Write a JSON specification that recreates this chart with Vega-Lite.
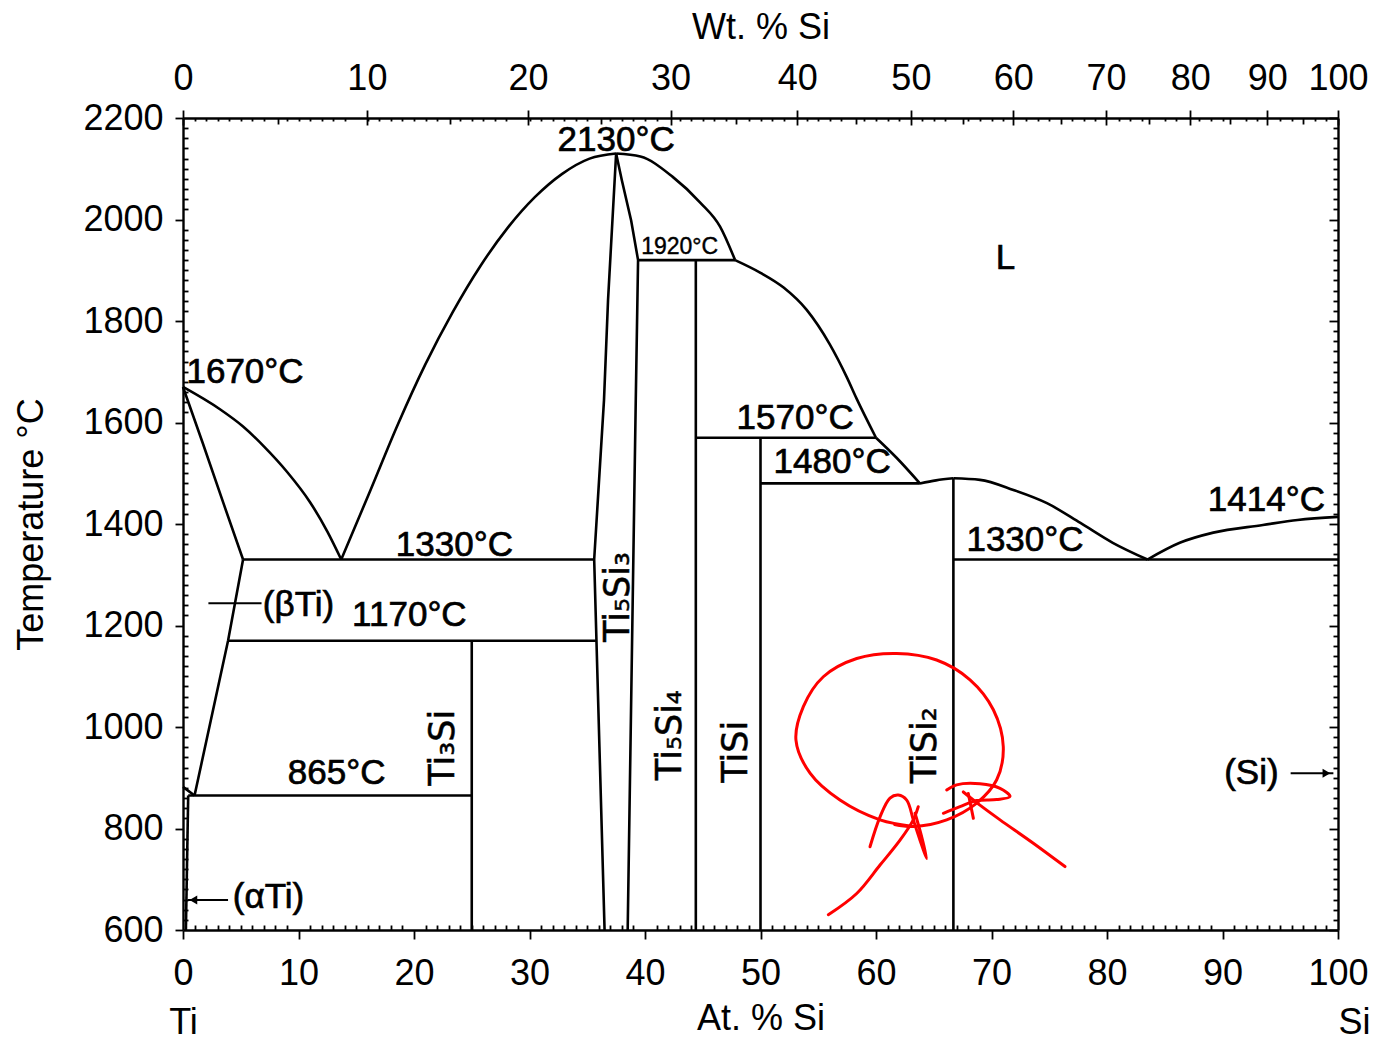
{
  "$schema": "https://vega.github.io/schema/vega-lite/v6.json",
  "description": "Ti-Si binary phase diagram: temperature against atomic percent silicon, with a weight-percent scale on top.",
  "width": 1155,
  "height": 812,
  "autosize": {"type": "none"},
  "padding": {"left": 183, "top": 118, "right": 43, "bottom": 111},
  "background": "white",
  "config": {
    "view": {"stroke": null},
    "font": "Liberation Sans",
    "axis": {
      "grid": false,
      "domainColor": "black",
      "domainWidth": 2.4,
      "tickColor": "black",
      "tickWidth": 1.8,
      "labelColor": "black",
      "titleColor": "black",
      "labelFont": "Liberation Sans",
      "titleFont": "Liberation Sans",
      "labelFontSize": 36,
      "titleFontSize": 36,
      "titleFontWeight": "normal",
      "labelFlush": false,
      "labelOverlap": false,
      "offset": 0
    }
  },
  "datasets": {
    "anchor": [{"at_pct": 0, "temp_c": 600}],
    "boundaries": [
      {"curve": "solidus_bti", "pt": 0, "at_pct": 0, "temp_c": 1670},
      {"curve": "solidus_bti", "pt": 1, "at_pct": 1.7, "temp_c": 1560},
      {"curve": "solidus_bti", "pt": 2, "at_pct": 3.5, "temp_c": 1441},
      {"curve": "solidus_bti", "pt": 3, "at_pct": 5.2, "temp_c": 1330},
      {"curve": "solvus_bti", "pt": 0, "at_pct": 5.2, "temp_c": 1330},
      {"curve": "solvus_bti", "pt": 1, "at_pct": 3.9, "temp_c": 1170},
      {"curve": "solvus_bti", "pt": 2, "at_pct": 1.0, "temp_c": 865},
      {"curve": "transus", "pt": 0, "at_pct": 0, "temp_c": 882},
      {"curve": "transus", "pt": 1, "at_pct": 1.0, "temp_c": 865},
      {"curve": "solvus_ati", "pt": 0, "at_pct": 0.45, "temp_c": 865},
      {"curve": "solvus_ati", "pt": 1, "at_pct": 0.25, "temp_c": 600},
      {"curve": "iso_1330_left", "pt": 0, "at_pct": 5.2, "temp_c": 1330},
      {"curve": "iso_1330_left", "pt": 1, "at_pct": 35.6, "temp_c": 1330},
      {"curve": "iso_1170", "pt": 0, "at_pct": 3.9, "temp_c": 1170},
      {"curve": "iso_1170", "pt": 1, "at_pct": 35.8, "temp_c": 1170},
      {"curve": "iso_865", "pt": 0, "at_pct": 0.45, "temp_c": 865},
      {"curve": "iso_865", "pt": 1, "at_pct": 25, "temp_c": 865},
      {"curve": "ti3si", "pt": 0, "at_pct": 25, "temp_c": 1170},
      {"curve": "ti3si", "pt": 1, "at_pct": 25, "temp_c": 600},
      {"curve": "ti5si3_left", "pt": 0, "at_pct": 37.5, "temp_c": 2130},
      {"curve": "ti5si3_left", "pt": 1, "at_pct": 36.8, "temp_c": 1841},
      {"curve": "ti5si3_left", "pt": 2, "at_pct": 36.45, "temp_c": 1644},
      {"curve": "ti5si3_left", "pt": 3, "at_pct": 35.6, "temp_c": 1330},
      {"curve": "ti5si3_left", "pt": 4, "at_pct": 36.5, "temp_c": 600},
      {"curve": "ti5si3_right", "pt": 0, "at_pct": 37.5, "temp_c": 2130},
      {"curve": "ti5si3_right", "pt": 1, "at_pct": 38.0, "temp_c": 2077},
      {"curve": "ti5si3_right", "pt": 2, "at_pct": 38.8, "temp_c": 1998},
      {"curve": "ti5si3_right", "pt": 3, "at_pct": 39.4, "temp_c": 1920},
      {"curve": "ti5si3_right", "pt": 4, "at_pct": 39.2, "temp_c": 1644},
      {"curve": "ti5si3_right", "pt": 5, "at_pct": 38.5, "temp_c": 600},
      {"curve": "iso_1920", "pt": 0, "at_pct": 39.4, "temp_c": 1920},
      {"curve": "iso_1920", "pt": 1, "at_pct": 47.8, "temp_c": 1920},
      {"curve": "ti5si4", "pt": 0, "at_pct": 44.4, "temp_c": 1920},
      {"curve": "ti5si4", "pt": 1, "at_pct": 44.4, "temp_c": 600},
      {"curve": "iso_1570", "pt": 0, "at_pct": 44.4, "temp_c": 1570},
      {"curve": "iso_1570", "pt": 1, "at_pct": 60.0, "temp_c": 1570},
      {"curve": "tisi", "pt": 0, "at_pct": 50.0, "temp_c": 1570},
      {"curve": "tisi", "pt": 1, "at_pct": 50.0, "temp_c": 600},
      {"curve": "iso_1480", "pt": 0, "at_pct": 50.0, "temp_c": 1480},
      {"curve": "iso_1480", "pt": 1, "at_pct": 63.8, "temp_c": 1480},
      {"curve": "tisi2", "pt": 0, "at_pct": 66.7, "temp_c": 1490},
      {"curve": "tisi2", "pt": 1, "at_pct": 66.7, "temp_c": 600},
      {"curve": "iso_1330_right", "pt": 0, "at_pct": 66.7, "temp_c": 1330},
      {"curve": "iso_1330_right", "pt": 1, "at_pct": 100, "temp_c": 1330}
    ],
    "liquidus": [
      {"curve": "liq_ti", "pt": 0, "at_pct": 0, "temp_c": 1670},
      {"curve": "liq_ti", "pt": 1, "at_pct": 3.2, "temp_c": 1626},
      {"curve": "liq_ti", "pt": 2, "at_pct": 5.2, "temp_c": 1592},
      {"curve": "liq_ti", "pt": 3, "at_pct": 7.0, "temp_c": 1553},
      {"curve": "liq_ti", "pt": 4, "at_pct": 9.0, "temp_c": 1503},
      {"curve": "liq_ti", "pt": 5, "at_pct": 11.0, "temp_c": 1443},
      {"curve": "liq_ti", "pt": 6, "at_pct": 12.5, "temp_c": 1385},
      {"curve": "liq_ti", "pt": 7, "at_pct": 13.7, "temp_c": 1330},
      {"curve": "liq_mid", "pt": 0, "at_pct": 13.7, "temp_c": 1330},
      {"curve": "liq_mid", "pt": 1, "at_pct": 16.22, "temp_c": 1466},
      {"curve": "liq_mid", "pt": 2, "at_pct": 18.6, "temp_c": 1596},
      {"curve": "liq_mid", "pt": 3, "at_pct": 20.97, "temp_c": 1714},
      {"curve": "liq_mid", "pt": 4, "at_pct": 23.34, "temp_c": 1817},
      {"curve": "liq_mid", "pt": 5, "at_pct": 25.71, "temp_c": 1907},
      {"curve": "liq_mid", "pt": 6, "at_pct": 28.09, "temp_c": 1983},
      {"curve": "liq_mid", "pt": 7, "at_pct": 30.46, "temp_c": 2044},
      {"curve": "liq_mid", "pt": 8, "at_pct": 32.83, "temp_c": 2090},
      {"curve": "liq_mid", "pt": 9, "at_pct": 35.2, "temp_c": 2120},
      {"curve": "liq_mid", "pt": 10, "at_pct": 37.5, "temp_c": 2130},
      {"curve": "liq_r1", "pt": 0, "at_pct": 37.5, "temp_c": 2130},
      {"curve": "liq_r1", "pt": 1, "at_pct": 39.6, "temp_c": 2124},
      {"curve": "liq_r1", "pt": 2, "at_pct": 42.4, "temp_c": 2084},
      {"curve": "liq_r1", "pt": 3, "at_pct": 44.8, "temp_c": 2033},
      {"curve": "liq_r1", "pt": 4, "at_pct": 46.5, "temp_c": 1986},
      {"curve": "liq_r1", "pt": 5, "at_pct": 47.8, "temp_c": 1920},
      {"curve": "liq_r2", "pt": 0, "at_pct": 47.8, "temp_c": 1920},
      {"curve": "liq_r2", "pt": 1, "at_pct": 50.0, "temp_c": 1895},
      {"curve": "liq_r2", "pt": 2, "at_pct": 52.0, "temp_c": 1866},
      {"curve": "liq_r2", "pt": 3, "at_pct": 54.0, "temp_c": 1822},
      {"curve": "liq_r2", "pt": 4, "at_pct": 56.0, "temp_c": 1754},
      {"curve": "liq_r2", "pt": 5, "at_pct": 57.5, "temp_c": 1688},
      {"curve": "liq_r2", "pt": 6, "at_pct": 58.3, "temp_c": 1648},
      {"curve": "liq_r2", "pt": 7, "at_pct": 60.0, "temp_c": 1570},
      {"curve": "liq_r3", "pt": 0, "at_pct": 60.0, "temp_c": 1570},
      {"curve": "liq_r3", "pt": 1, "at_pct": 61.8, "temp_c": 1530},
      {"curve": "liq_r3", "pt": 2, "at_pct": 63.8, "temp_c": 1480},
      {"curve": "liq_r4", "pt": 0, "at_pct": 63.8, "temp_c": 1480},
      {"curve": "liq_r4", "pt": 1, "at_pct": 65.2, "temp_c": 1486},
      {"curve": "liq_r4", "pt": 2, "at_pct": 66.7, "temp_c": 1490},
      {"curve": "liq_r5", "pt": 0, "at_pct": 66.7, "temp_c": 1490},
      {"curve": "liq_r5", "pt": 1, "at_pct": 69.0, "temp_c": 1487},
      {"curve": "liq_r5", "pt": 2, "at_pct": 71.9, "temp_c": 1467},
      {"curve": "liq_r5", "pt": 3, "at_pct": 74.8, "temp_c": 1441},
      {"curve": "liq_r5", "pt": 4, "at_pct": 77.7, "temp_c": 1402},
      {"curve": "liq_r5", "pt": 5, "at_pct": 80.5, "temp_c": 1363},
      {"curve": "liq_r5", "pt": 6, "at_pct": 83.5, "temp_c": 1330},
      {"curve": "liq_si", "pt": 0, "at_pct": 83.5, "temp_c": 1330},
      {"curve": "liq_si", "pt": 1, "at_pct": 86.3, "temp_c": 1363},
      {"curve": "liq_si", "pt": 2, "at_pct": 89.2, "temp_c": 1383},
      {"curve": "liq_si", "pt": 3, "at_pct": 93.5, "temp_c": 1398},
      {"curve": "liq_si", "pt": 4, "at_pct": 96.5, "temp_c": 1408},
      {"curve": "liq_si", "pt": 5, "at_pct": 100, "temp_c": 1414}
    ],
    "pointers": [
      {"curve": "beta", "pt": 0, "at_pct": 2.2, "temp_c": 1244},
      {"curve": "beta", "pt": 1, "at_pct": 6.8, "temp_c": 1244},
      {"curve": "alpha", "pt": 0, "at_pct": 0.4, "temp_c": 659},
      {"curve": "alpha", "pt": 1, "at_pct": 3.9, "temp_c": 659},
      {"curve": "si", "pt": 0, "at_pct": 95.9, "temp_c": 909},
      {"curve": "si", "pt": 1, "at_pct": 99.6, "temp_c": 909}
    ],
    "pointer_tips": [
      {"direction": "left", "at_pct": 0.9, "temp_c": 659},
      {"direction": "right", "at_pct": 99.0, "temp_c": 909}
    ],
    "isotherm_labels": [
      {"label": "1670°C", "at_pct": 5.37, "temp_c": 1700},
      {"label": "2130°C", "at_pct": 37.5, "temp_c": 2157},
      {"label": "1570°C", "at_pct": 53.0, "temp_c": 1609},
      {"label": "1480°C", "at_pct": 56.2, "temp_c": 1523},
      {"label": "1414°C", "at_pct": 93.8, "temp_c": 1447},
      {"label": "1330°C", "at_pct": 72.9, "temp_c": 1368},
      {"label": "1330°C", "at_pct": 23.5, "temp_c": 1359},
      {"label": "1170°C", "at_pct": 19.6, "temp_c": 1221},
      {"label": "865°C", "at_pct": 13.3, "temp_c": 909}
    ],
    "small_labels": [
      {"label": "1920°C", "at_pct": 43.0, "temp_c": 1946}
    ],
    "phase_labels": [
      {"label": "L", "at_pct": 71.2, "temp_c": 1924},
      {"label": "(βTi)", "at_pct": 10.0, "temp_c": 1240},
      {"label": "(αTi)", "at_pct": 7.4, "temp_c": 666},
      {"label": "(Si)", "at_pct": 92.5, "temp_c": 909}
    ],
    "compound_labels": [
      {"label": "Ti₃Si", "at_pct": 22.5, "temp_c": 959},
      {"label": "Ti₅Si₃", "at_pct": 37.7, "temp_c": 1256},
      {"label": "Ti₅Si₄", "at_pct": 42.2, "temp_c": 984},
      {"label": "TiSi", "at_pct": 47.9, "temp_c": 951},
      {"label": "TiSi₂", "at_pct": 64.2, "temp_c": 964}
    ],
    "markup": [
      {"stroke": "ring", "pt": 0, "at_pct": 63.23, "temp_c": 804},
      {"stroke": "ring", "pt": 1, "at_pct": 60.35, "temp_c": 817},
      {"stroke": "ring", "pt": 2, "at_pct": 56.88, "temp_c": 856},
      {"stroke": "ring", "pt": 3, "at_pct": 54.29, "temp_c": 909},
      {"stroke": "ring", "pt": 4, "at_pct": 53.07, "temp_c": 974},
      {"stroke": "ring", "pt": 5, "at_pct": 53.71, "temp_c": 1040},
      {"stroke": "ring", "pt": 6, "at_pct": 55.44, "temp_c": 1099},
      {"stroke": "ring", "pt": 7, "at_pct": 58.33, "temp_c": 1135},
      {"stroke": "ring", "pt": 8, "at_pct": 61.79, "temp_c": 1145},
      {"stroke": "ring", "pt": 9, "at_pct": 65.25, "temp_c": 1132},
      {"stroke": "ring", "pt": 10, "at_pct": 68.14, "temp_c": 1093},
      {"stroke": "ring", "pt": 11, "at_pct": 70.16, "temp_c": 1034},
      {"stroke": "ring", "pt": 12, "at_pct": 71.02, "temp_c": 961},
      {"stroke": "ring", "pt": 13, "at_pct": 70.45, "temp_c": 896},
      {"stroke": "ring", "pt": 14, "at_pct": 68.72, "temp_c": 850},
      {"stroke": "ring", "pt": 15, "at_pct": 66.12, "temp_c": 817},
      {"stroke": "ring", "pt": 16, "at_pct": 63.23, "temp_c": 804},
      {"stroke": "ring", "pt": 17, "at_pct": 61.6, "temp_c": 808},
      {"stroke": "a1", "pt": 0, "at_pct": 55.87, "temp_c": 630},
      {"stroke": "a1", "pt": 1, "at_pct": 58.33, "temp_c": 672},
      {"stroke": "a1", "pt": 2, "at_pct": 60.35, "temp_c": 728},
      {"stroke": "a1", "pt": 3, "at_pct": 62.08, "temp_c": 777},
      {"stroke": "a1", "pt": 4, "at_pct": 63.23, "temp_c": 817},
      {"stroke": "a1", "pt": 5, "at_pct": 63.66, "temp_c": 843},
      {"stroke": "a2", "pt": 0, "at_pct": 59.48, "temp_c": 764},
      {"stroke": "a2", "pt": 1, "at_pct": 60.35, "temp_c": 823},
      {"stroke": "a2", "pt": 2, "at_pct": 61.21, "temp_c": 860},
      {"stroke": "a2", "pt": 3, "at_pct": 61.93, "temp_c": 866},
      {"stroke": "a2", "pt": 4, "at_pct": 62.66, "temp_c": 856},
      {"stroke": "a2", "pt": 5, "at_pct": 63.23, "temp_c": 817},
      {"stroke": "a2", "pt": 6, "at_pct": 63.81, "temp_c": 777},
      {"stroke": "a2", "pt": 7, "at_pct": 64.39, "temp_c": 741},
      {"stroke": "a2", "pt": 8, "at_pct": 63.95, "temp_c": 784},
      {"stroke": "a2", "pt": 9, "at_pct": 63.38, "temp_c": 830},
      {"stroke": "b1", "pt": 0, "at_pct": 76.36, "temp_c": 725},
      {"stroke": "b1", "pt": 1, "at_pct": 73.62, "temp_c": 771},
      {"stroke": "b1", "pt": 2, "at_pct": 70.74, "temp_c": 817},
      {"stroke": "b1", "pt": 3, "at_pct": 69.0, "temp_c": 846},
      {"stroke": "b1", "pt": 4, "at_pct": 67.56, "temp_c": 872},
      {"stroke": "b2", "pt": 0, "at_pct": 66.12, "temp_c": 876},
      {"stroke": "b2", "pt": 1, "at_pct": 66.98, "temp_c": 886},
      {"stroke": "b2", "pt": 2, "at_pct": 69.0, "temp_c": 888},
      {"stroke": "b2", "pt": 3, "at_pct": 70.74, "temp_c": 879},
      {"stroke": "b2", "pt": 4, "at_pct": 71.6, "temp_c": 863},
      {"stroke": "b2", "pt": 5, "at_pct": 70.45, "temp_c": 857},
      {"stroke": "b2", "pt": 6, "at_pct": 68.72, "temp_c": 855},
      {"stroke": "b2", "pt": 7, "at_pct": 67.27, "temp_c": 843},
      {"stroke": "b2", "pt": 8, "at_pct": 65.83, "temp_c": 830},
      {"stroke": "hatch", "pt": 0, "at_pct": 68.43, "temp_c": 820},
      {"stroke": "hatch", "pt": 1, "at_pct": 67.99, "temp_c": 869}
    ]
  },
  "layer": [
    {
      "data": {"name": "boundaries"},
      "mark": {"type": "line", "color": "black", "strokeWidth": 2.6, "strokeJoin": "round"},
      "encoding": {
        "x": {
          "field": "at_pct", "type": "quantitative",
          "scale": {"domain": [0, 100], "nice": false, "zero": false},
          "axis": {"orient": "bottom", "values": [0, 10, 20, 30, 40, 50, 60, 70, 80, 90, 100], "format": "d", "title": "At. % Si", "tickSize": 9, "labelPadding": 17, "titlePadding": 10}
        },
        "y": {
          "field": "temp_c", "type": "quantitative",
          "scale": {"domain": [600, 2200], "nice": false, "zero": false},
          "axis": {"orient": "left", "values": [600, 800, 1000, 1200, 1400, 1600, 1800, 2000, 2200], "format": "d", "title": "Temperature °C", "tickSize": 8, "labelPadding": 12, "titlePadding": 32}
        },
        "detail": {"field": "curve"},
        "order": {"field": "pt", "type": "quantitative"}
      }
    },
    {
      "data": {"name": "liquidus"},
      "mark": {"type": "line", "color": "black", "strokeWidth": 2.6, "interpolate": "monotone"},
      "encoding": {
        "x": {"field": "at_pct", "type": "quantitative", "scale": {"domain": [0, 100], "nice": false, "zero": false}, "axis": null},
        "y": {"field": "temp_c", "type": "quantitative", "scale": {"domain": [600, 2200], "nice": false, "zero": false}, "axis": null},
        "detail": {"field": "curve"},
        "order": {"field": "pt", "type": "quantitative"}
      }
    },
    {
      "data": {"name": "anchor"},
      "mark": {"type": "point", "opacity": 0},
      "encoding": {
        "x": {
          "field": "at_pct", "type": "quantitative",
          "scale": {"domain": [0, 100], "nice": false, "zero": false},
          "axis": {"orient": "bottom", "values": [1,2,3,4,5,6,7,8,9,11,12,13,14,15,16,17,18,19,21,22,23,24,25,26,27,28,29,31,32,33,34,35,36,37,38,39,41,42,43,44,45,46,47,48,49,51,52,53,54,55,56,57,58,59,61,62,63,64,65,66,67,68,69,71,72,73,74,75,76,77,78,79,81,82,83,84,85,86,87,88,89,91,92,93,94,95,96,97,98,99], "labels": false, "title": null, "domain": false, "tickSize": -5}
        },
        "y": {
          "field": "temp_c", "type": "quantitative",
          "scale": {"domain": [600, 2200], "nice": false, "zero": false},
          "axis": {"orient": "left", "values": [620,640,660,680,700,720,740,760,780,820,840,860,880,900,920,940,960,980,1020,1040,1060,1080,1100,1120,1140,1160,1180,1220,1240,1260,1280,1300,1320,1340,1360,1380,1420,1440,1460,1480,1500,1520,1540,1560,1580,1620,1640,1660,1680,1700,1720,1740,1760,1780,1820,1840,1860,1880,1900,1920,1940,1960,1980,2020,2040,2060,2080,2100,2120,2140,2160,2180], "labels": false, "title": null, "domain": false, "tickSize": -5}
        }
      }
    },
    {
      "data": {"name": "anchor"},
      "mark": {"type": "point", "opacity": 0},
      "encoding": {
        "x": {
          "field": "at_pct", "type": "quantitative",
          "scale": {"domain": [0, 100], "nice": false, "zero": false},
          "axis": {"orient": "top", "values": [0, 15.92, 29.88, 42.21, 53.19, 63.02, 71.88, 79.91, 87.21, 93.88, 100], "labelExpr": "['0','10','20','30','40','50','60','70','80','90','100'][indexof([0, 15.92, 29.88, 42.21, 53.19, 63.02, 71.88, 79.91, 87.21, 93.88, 100], datum.value)]", "title": "Wt. % Si", "tickSize": 8, "labelPadding": 13, "titlePadding": 14}
        },
        "y": {
          "field": "temp_c", "type": "quantitative",
          "scale": {"domain": [600, 2200], "nice": false, "zero": false},
          "axis": {"orient": "right", "values": [620,640,660,680,700,720,740,760,780,820,840,860,880,900,920,940,960,980,1020,1040,1060,1080,1100,1120,1140,1160,1180,1220,1240,1260,1280,1300,1320,1340,1360,1380,1420,1440,1460,1480,1500,1520,1540,1560,1580,1620,1640,1660,1680,1700,1720,1740,1760,1780,1820,1840,1860,1880,1900,1920,1940,1960,1980,2020,2040,2060,2080,2100,2120,2140,2160,2180], "labels": false, "title": null, "tickSize": -5}
        }
      }
    },
    {
      "data": {"name": "anchor"},
      "mark": {"type": "point", "opacity": 0},
      "encoding": {
        "x": {
          "field": "at_pct", "type": "quantitative",
          "scale": {"domain": [0, 100], "nice": false, "zero": false},
          "axis": {"orient": "top", "values": [0, 15.92, 29.88, 42.21, 53.19, 63.02, 71.88, 79.91, 87.21, 93.88, 100], "labels": false, "title": null, "domain": false, "tickSize": -7}
        },
        "y": {
          "field": "temp_c", "type": "quantitative",
          "scale": {"domain": [600, 2200], "nice": false, "zero": false},
          "axis": {"orient": "right", "values": [600, 800, 1000, 1200, 1400, 1600, 1800, 2000, 2200], "labels": false, "title": null, "domain": false, "tickSize": -9}
        }
      }
    },
    {
      "data": {"name": "anchor"},
      "mark": {"type": "point", "opacity": 0},
      "encoding": {
        "x": {
          "field": "at_pct", "type": "quantitative",
          "scale": {"domain": [0, 100], "nice": false, "zero": false},
          "axis": {"orient": "top", "values": [8.23, 23.12, 36.23, 47.86, 58.24, 67.57, 75.99, 83.64, 90.62, 97.0], "labels": false, "title": null, "domain": false, "tickSize": -6}
        }
      }
    },
    {
      "data": {"name": "anchor"},
      "mark": {"type": "point", "opacity": 0},
      "encoding": {
        "x": {
          "field": "at_pct", "type": "quantitative",
          "scale": {"domain": [0, 100], "nice": false, "zero": false},
          "axis": {"orient": "top", "values": [1,2,3,4,5,6,7,9,10,11,12,13,14,16,17,18,19,20,21,22,24,25,26,27,28,30,31,32,33,34,35,37,38,39,40,41,43,44,45,46,47,49,50,51,52,54,55,56,57,59,60,61,62,64,65,66,68,69,70,71,73,74,75,77,78,79,81,82,83,85,86,88,89,90,92,93,95,96,98,99], "labels": false, "title": null, "domain": false, "tickSize": -3}
        }
      }
    },
    {
      "data": {"name": "anchor"},
      "mark": {"type": "point", "opacity": 0},
      "encoding": {
        "x": {
          "field": "at_pct", "type": "quantitative",
          "scale": {"domain": [0, 100], "nice": false, "zero": false},
          "axis": {"orient": "bottom", "values": [0], "labelExpr": "'Ti'", "ticks": false, "tickSize": 0, "domain": false, "labelPadding": 75, "title": null}
        }
      }
    },
    {
      "data": {"name": "anchor"},
      "mark": {"type": "point", "opacity": 0},
      "encoding": {
        "x": {
          "field": "at_pct", "type": "quantitative",
          "scale": {"domain": [0, 100], "nice": false, "zero": false},
          "axis": {"orient": "bottom", "values": [100], "labelExpr": "'Si'", "labelAlign": "left", "ticks": false, "tickSize": 0, "domain": false, "labelPadding": 75, "title": null}
        }
      }
    },
    {
      "data": {"name": "pointers"},
      "mark": {"type": "line", "color": "black", "strokeWidth": 2},
      "encoding": {
        "x": {"field": "at_pct", "type": "quantitative", "scale": {"domain": [0, 100], "nice": false, "zero": false}, "axis": null},
        "y": {"field": "temp_c", "type": "quantitative", "scale": {"domain": [600, 2200], "nice": false, "zero": false}, "axis": null},
        "detail": {"field": "curve"},
        "order": {"field": "pt", "type": "quantitative"}
      }
    },
    {
      "data": {"name": "pointer_tips"},
      "mark": {"type": "point", "filled": true, "color": "black", "size": 80, "opacity": 1},
      "encoding": {
        "x": {"field": "at_pct", "type": "quantitative", "scale": {"domain": [0, 100], "nice": false, "zero": false}, "axis": null},
        "y": {"field": "temp_c", "type": "quantitative", "scale": {"domain": [600, 2200], "nice": false, "zero": false}, "axis": null},
        "shape": {"field": "direction", "type": "nominal", "scale": {"domain": ["left", "right"], "range": ["triangle-left", "triangle-right"]}, "legend": null}
      }
    },
    {
      "data": {"name": "isotherm_labels"},
      "mark": {"type": "text", "font": "Liberation Sans", "fontSize": 35, "color": "black", "stroke": "black", "strokeWidth": 0.7, "align": "center", "baseline": "middle"},
      "encoding": {
        "x": {"field": "at_pct", "type": "quantitative", "scale": {"domain": [0, 100], "nice": false, "zero": false}, "axis": null},
        "y": {"field": "temp_c", "type": "quantitative", "scale": {"domain": [600, 2200], "nice": false, "zero": false}, "axis": null},
        "text": {"field": "label"}
      }
    },
    {
      "data": {"name": "small_labels"},
      "mark": {"type": "text", "font": "Liberation Sans", "fontSize": 23, "color": "black", "stroke": "black", "strokeWidth": 0.4, "align": "center", "baseline": "middle"},
      "encoding": {
        "x": {"field": "at_pct", "type": "quantitative", "scale": {"domain": [0, 100], "nice": false, "zero": false}, "axis": null},
        "y": {"field": "temp_c", "type": "quantitative", "scale": {"domain": [600, 2200], "nice": false, "zero": false}, "axis": null},
        "text": {"field": "label"}
      }
    },
    {
      "data": {"name": "phase_labels"},
      "mark": {"type": "text", "font": "Liberation Sans", "fontSize": 35, "color": "black", "stroke": "black", "strokeWidth": 0.7, "align": "center", "baseline": "middle"},
      "encoding": {
        "x": {"field": "at_pct", "type": "quantitative", "scale": {"domain": [0, 100], "nice": false, "zero": false}, "axis": null},
        "y": {"field": "temp_c", "type": "quantitative", "scale": {"domain": [600, 2200], "nice": false, "zero": false}, "axis": null},
        "text": {"field": "label"}
      }
    },
    {
      "data": {"name": "compound_labels"},
      "mark": {"type": "text", "font": "DejaVu Sans", "fontSize": 35, "color": "black", "stroke": "black", "strokeWidth": 0.5, "align": "center", "baseline": "middle", "angle": 270},
      "encoding": {
        "x": {"field": "at_pct", "type": "quantitative", "scale": {"domain": [0, 100], "nice": false, "zero": false}, "axis": null},
        "y": {"field": "temp_c", "type": "quantitative", "scale": {"domain": [600, 2200], "nice": false, "zero": false}, "axis": null},
        "text": {"field": "label"}
      }
    },
    {
      "data": {"name": "markup"},
      "mark": {"type": "line", "color": "#ff0000", "strokeWidth": 3, "interpolate": "catmull-rom", "strokeCap": "round", "strokeJoin": "round"},
      "encoding": {
        "x": {"field": "at_pct", "type": "quantitative", "scale": {"domain": [0, 100], "nice": false, "zero": false}, "axis": null},
        "y": {"field": "temp_c", "type": "quantitative", "scale": {"domain": [600, 2200], "nice": false, "zero": false}, "axis": null},
        "detail": {"field": "stroke"},
        "order": {"field": "pt", "type": "quantitative"}
      }
    }
  ],
  "resolve": {"axis": {"x": "independent", "y": "independent"}}
}
